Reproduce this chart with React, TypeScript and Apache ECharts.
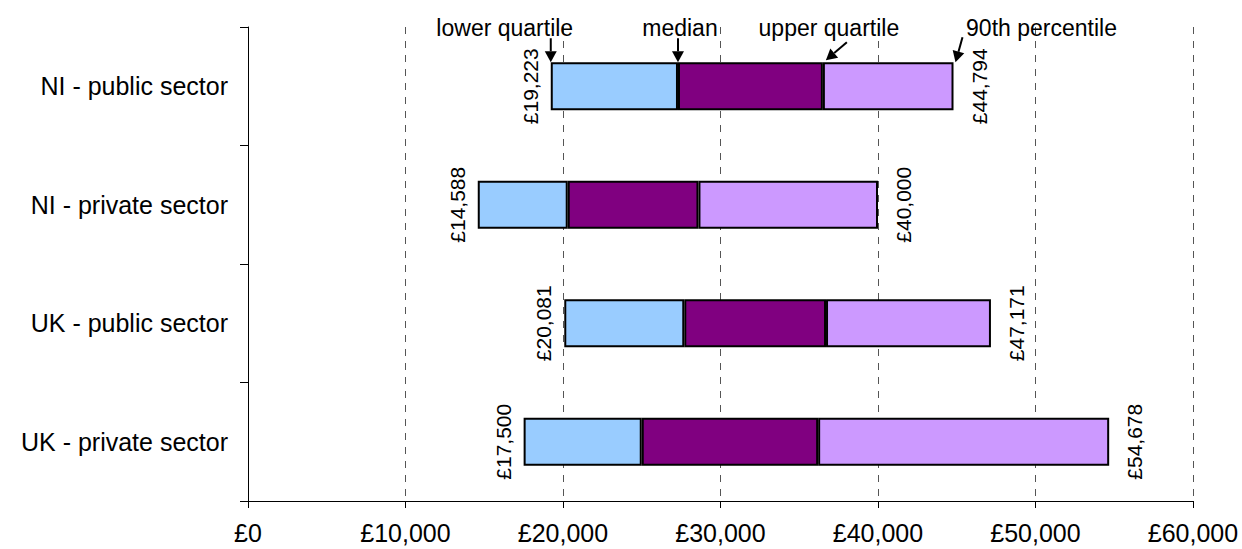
import React, { useEffect, useRef } from "react";
import * as echarts from "echarts";

const categories = ["NI - public sector", "NI - private sector", "UK - public sector", "UK - private sector"];
const lowerQuartile = [19223, 14588, 20081, 17500];
const median = [27300, 20300, 27700, 25000];
const upperQuartile = [36500, 28600, 36700, 36200];
const percentile90 = [44794, 40000, 47171, 54678];
const annotationLabels = ["lower quartile", "median", "upper quartile", "90th percentile"];

const FONT = "'Liberation Sans', Arial, sans-serif";
const fmt = (v: number) => "£" + v.toLocaleString("en-GB");

function arrow(x1: number, y1: number, x2: number, y2: number) {
  const ang = Math.atan2(y2 - y1, x2 - x1);
  const len = 11;
  const half = 6;
  const bx = x2 - len * Math.cos(ang);
  const by = y2 - len * Math.sin(ang);
  const px = -Math.sin(ang) * half;
  const py = Math.cos(ang) * half;
  return [
    {
      type: "line",
      shape: { x1, y1, x2: bx, y2: by },
      style: { stroke: "#000", lineWidth: 2 },
      silent: true,
    },
    {
      type: "polygon",
      shape: { points: [[x2, y2], [bx + px, by + py], [bx - px, by - py]] },
      style: { fill: "#000" },
      silent: true,
    },
  ];
}

export default function App() {
  const ref = useRef<HTMLDivElement>(null);
  useEffect(() => {
    if (!ref.current) return;
    const chart = echarts.init(ref.current, null, { renderer: "svg" });
    const seg1 = median.map((m, i) => m - lowerQuartile[i]);
    const seg2 = upperQuartile.map((u, i) => u - median[i]);
    const seg3 = percentile90.map((p, i) => p - upperQuartile[i]);
    const barW = 48;
    const border = { borderColor: "#000", borderWidth: 2 };
    chart.setOption({
      animation: false,
      textStyle: { fontFamily: FONT },
      grid: { left: 248, right: 49, top: 27, bottom: 48, containLabel: false },
      xAxis: {
        type: "value",
        min: 0,
        max: 60000,
        interval: 10000,
        axisLine: { show: true, lineStyle: { color: "#000", width: 1 } },
        axisTick: { show: true, length: 7, lineStyle: { color: "#000" } },
        axisLabel: { color: "#000", fontSize: 25, margin: 19, fontFamily: FONT, formatter: (v: number) => fmt(v) },
        splitLine: { show: true, lineStyle: { color: "#555", type: [7, 7], width: 1 } },
      },
      yAxis: {
        type: "category",
        data: categories,
        inverse: true,
        axisLine: { show: true, lineStyle: { color: "#000", width: 1 } },
        axisTick: { show: true, length: 8, lineStyle: { color: "#000" } },
        axisLabel: { color: "#000", fontSize: 25, margin: 20, fontFamily: FONT },
        splitLine: { show: false },
      },
      series: [
        {
          type: "bar",
          stack: "s",
          data: lowerQuartile,
          barWidth: barW,
          itemStyle: { color: "transparent", borderWidth: 0 },
          silent: true,
        },
        {
          type: "bar",
          stack: "s",
          data: seg1,
          barWidth: barW,
          itemStyle: { color: "#99CCFF", ...border },
          label: {
            show: true,
            position: "left",
            distance: 10,
            rotate: 90,
            align: "center",
            verticalAlign: "bottom",
            fontSize: 21,
            color: "#000",
            fontFamily: FONT,
            formatter: (p: any) => fmt(lowerQuartile[p.dataIndex]),
          },
        },
        {
          type: "bar",
          stack: "s",
          data: seg2,
          barWidth: barW,
          itemStyle: { color: "#800080", ...border },
        },
        {
          type: "bar",
          stack: "s",
          data: seg3,
          barWidth: barW,
          itemStyle: { color: "#CC99FF", ...border },
          label: {
            show: true,
            position: "right",
            distance: 15,
            rotate: 90,
            align: "center",
            verticalAlign: "top",
            fontSize: 21,
            color: "#000",
            fontFamily: FONT,
            formatter: (p: any) => fmt(percentile90[p.dataIndex]),
          },
        },
      ],
    });

    const toPx = (v: number) => chart.convertToPixel({ xAxisIndex: 0, yAxisIndex: 0 }, [v, 0]) as number[];
    const [lqX, cy] = toPx(lowerQuartile[0]);
    const [mdX] = toPx(median[0]);
    const [uqX] = toPx(upperQuartile[0]);
    const [p9X] = toPx(percentile90[0]);
    const top = cy - barW / 2;
    const textY = 28;
    const txt = (s: string, x: number) => ({
      type: "text",
      x,
      y: textY,
      silent: true,
      style: {
        text: s,
        fill: "#000",
        fontSize: 23,
        fontFamily: FONT,
        align: "center",
        verticalAlign: "middle",
      },
    });
    const graphic: any[] = [
      txt(annotationLabels[0], lqX - 46),
      txt(annotationLabels[1], mdX + 2),
      txt(annotationLabels[2], uqX + 6),
      txt(annotationLabels[3], p9X + 88),
      ...arrow(lqX, top - 24, lqX, top),
      ...arrow(mdX, top - 24, mdX, top),
      ...arrow(uqX + 24, top - 20, uqX + 3, top - 2),
      ...arrow(p9X + 9, top - 25, p9X + 2, top),
    ];
    chart.setOption({ graphic });

    return () => chart.dispose();
  }, []);
  return <div ref={ref} style={{ position: "fixed", left: 0, top: 0, width: 1242, height: 549, background: "#fff" }} />;
}
